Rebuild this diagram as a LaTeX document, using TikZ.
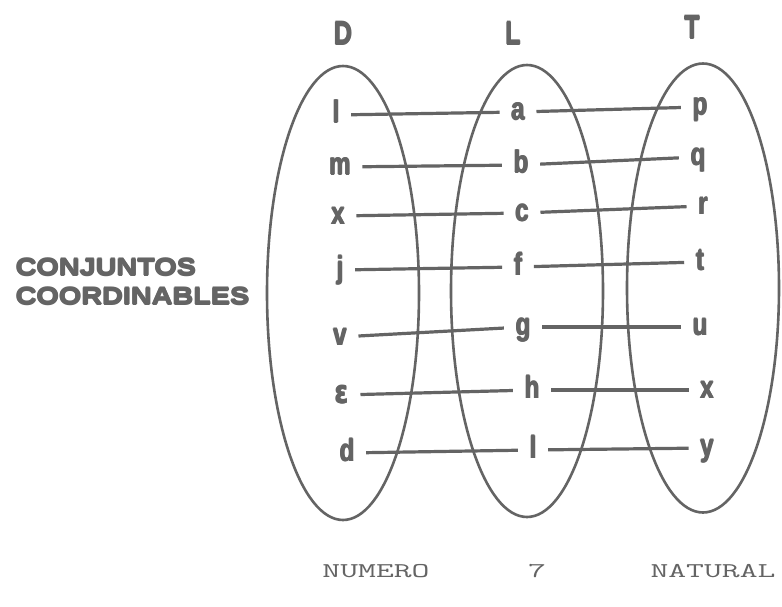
\documentclass[tikz,border=0pt]{standalone}
\usepackage{fontspec}
\usepackage{graphicx}
\setmainfont{Liberation Sans}
\newfontfamily\labfont{Liberation Sans}
\newfontfamily\capfont{Liberation Sans}[FakeStretch=1.2]
\newfontfamily\symfont{DejaVu Sans}
\newcommand\tallglyph[1]{\scalebox{1}[1.3]{#1}}
\newcommand\heavy[1]{\leavevmode\rlap{#1}\rlap{\raisebox{0.7pt}{\kern0.6pt#1}}\rlap{\raisebox{-0.7pt}{\kern0.6pt#1}}\kern1.2pt #1}
\newcommand\widetype[1]{\scalebox{1.65}[1]{\ttfamily #1}}
\usetikzlibrary{shapes.geometric}
\definecolor{ink}{RGB}{100,100,100}
\begin{document}
\begin{tikzpicture}[x=1pt,y=-1pt,
  lab/.style={text=ink, font=\labfont\fontsize{24}{24}\selectfont\bfseries, inner xsep=11pt, inner ysep=0pt, text height=16pt, text depth=0pt},
  head/.style={text=ink, font=\labfont\fontsize{25}{25}\selectfont\bfseries, inner sep=0pt},
  side/.style={text=ink, font=\capfont\fontsize{24}{29}\selectfont\bfseries, inner sep=0pt, align=left, anchor=north west},
  bot/.style={text=ink, font=\fontsize{21}{21}\selectfont, inner sep=0pt},
  link/.style={draw=ink, line width=3.2pt},
  setshape/.style={draw=ink, line width=2.6pt, ellipse, inner sep=0pt, minimum width=152pt}]
\useasboundingbox[fill=white] (0,0) rectangle (782,607);

% sets
\node[setshape, minimum height=454pt] (setD) at (343,293) {};
\node[setshape, minimum height=452pt] (setL) at (527,291) {};
\node[setshape, minimum height=449pt] (setT) at (703,288) {};

% headers
\node[head] (hD) at (343,33) {\tallglyph{\heavy{D}}};
\node[head] (hL) at (513,33) {\tallglyph{\heavy{L}}};
\node[head] (hT) at (692,27) {\tallglyph{\heavy{T}}};

% D elements
\node[lab] (d1) at (336,115) {\tallglyph{\heavy{l}}};
\node[lab] (d2) at (340,167) {\tallglyph{\heavy{m}}};
\node[lab] (d3) at (338,216) {\tallglyph{\heavy{x}}};
\node[lab] (d4) at (340,270) {\tallglyph{\heavy{j}}};
\node[lab] (d5) at (340,337) {\tallglyph{\heavy{v}}};
\node[lab] (d6) at (342,395) {\tallglyph{\heavy{\symfont\bfseries ε}}};
\node[lab] (d7) at (347,453) {\tallglyph{\heavy{d}}};

% L elements
\node[lab] (l1) at (518,112) {\tallglyph{\heavy{a}}};
\node[lab] (l2) at (521,165) {\tallglyph{\heavy{b}}};
\node[lab] (l3) at (522,213) {\tallglyph{\heavy{c}}};
\node[lab] (l4) at (518,267) {\tallglyph{\heavy{f}}};
\node[lab] (l5) at (523,327) {\tallglyph{\heavy{g}}};
\node[lab] (l6) at (532,390) {\tallglyph{\heavy{h}}};
\node[lab] (l7) at (533,450) {\tallglyph{\heavy{l}}};

% T elements
\node[lab] (t1) at (700,107) {\tallglyph{\heavy{p}}};
\node[lab] (t2) at (698,157) {\tallglyph{\heavy{q}}};
\node[lab] (t3) at (703,206) {\tallglyph{\heavy{r}}};
\node[lab] (t4) at (700,262) {\tallglyph{\heavy{t}}};
\node[lab] (t5) at (700,327) {\tallglyph{\heavy{u}}};
\node[lab] (t6) at (707,390) {\tallglyph{\heavy{x}}};
\node[lab] (t7) at (707,448) {\tallglyph{\heavy{y}}};

% correspondences
\foreach \i in {1,...,7}{
  \draw[link] (d\i) -- (l\i);
  \draw[link] (l\i) -- (t\i);
}

% side label
\node[side] (conj) at (15,258) {\heavy{CONJUNTOS}\\\heavy{COORDINABLES}};

% bottom caption
\node[bot] (b1) at (376,571) {\widetype{NUMERO}};
\node[bot] (b2) at (537,571) {\widetype{7}};
\node[bot] (b3) at (713,571) {\widetype{NATURAL}};
\end{tikzpicture}
\end{document}
